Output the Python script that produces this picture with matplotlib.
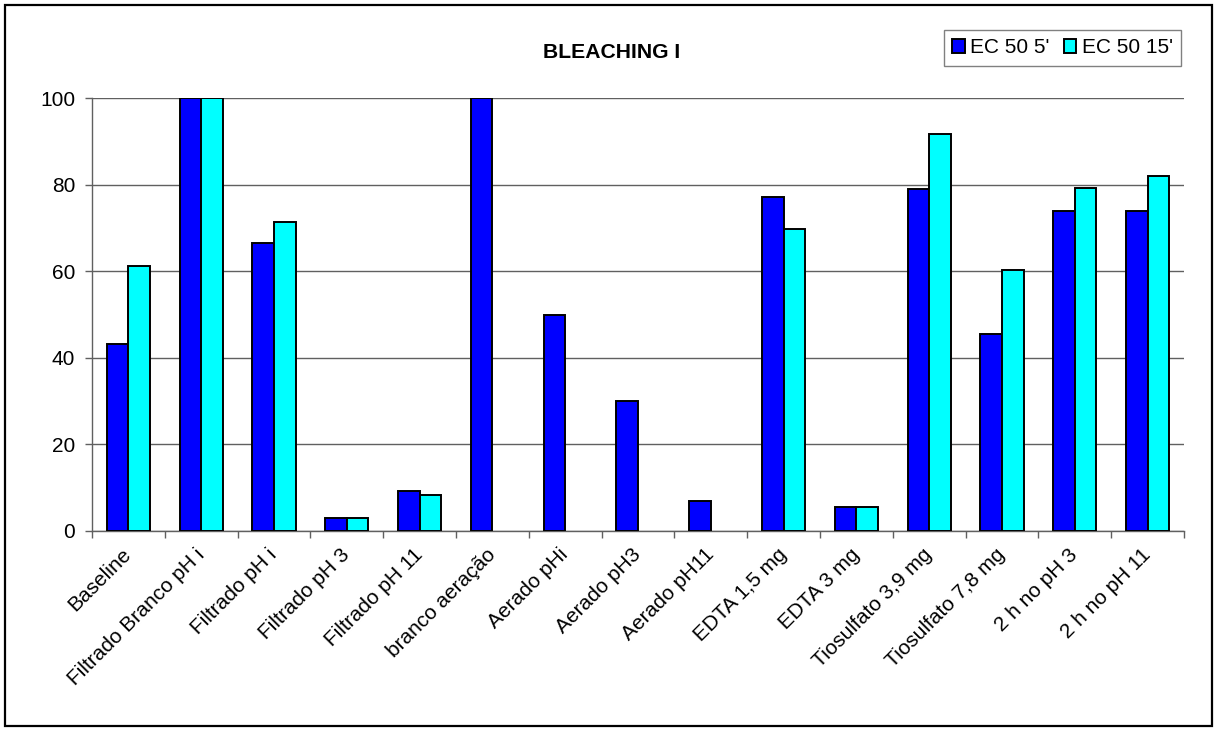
import numpy as np
import matplotlib.pyplot as plt
from matplotlib.patches import Rectangle

plt.rcParams['font.family'] = ['Liberation Sans', 'DejaVu Sans']

categories = ['Baseline', 'Filtrado Branco pH i', 'Filtrado pH i', 'Filtrado pH 3',
              'Filtrado pH 11', 'branco aeração', 'Aerado pHi', 'Aerado pH3',
              'Aerado pH11', 'EDTA 1,5 mg', 'EDTA 3 mg', 'Tiosulfato 3,9 mg',
              'Tiosulfato 7,8 mg', '2 h no pH 3', '2 h no pH 11']
ec50_5 = [43.3, 100, 66.5, 3.0, 9.3, 100, 50.0, 30.1, 7.0, 77.1, 5.5, 78.9, 45.4, 74.0, 73.8]
ec50_15 = [61.3, 100, 71.4, 3.0, 8.2, np.nan, np.nan, np.nan, np.nan, 69.7, 5.6, 91.8, 60.2, 79.2, 81.9]
series_names = ["EC 50 5'", "EC 50 15'"]
yticks = [0, 20, 40, 60, 80, 100]

W, H = 1218, 733
fs = 15
fig = plt.figure(figsize=(W / 100, H / 100), dpi=100)
ax = fig.add_axes([92 / W, 1 - 531 / H, (1184 - 92) / W, (531 - 98) / H])

x = np.arange(len(categories))
bw = 0.298
ax.bar(x - bw / 2, ec50_5, bw, color='#0000ff', edgecolor='black', linewidth=1.4,
       label=series_names[0], zorder=3)
ax.bar(x + bw / 2, ec50_15, bw, color='#00ffff', edgecolor='black', linewidth=1.4,
       label=series_names[1], zorder=3)

ax.set_xlim(-0.5, len(categories) - 0.5)
ax.set_ylim(0, 100)
ax.set_yticks(yticks)
ax.yaxis.grid(True, color='#606060', linewidth=1.0, zorder=0)

# ticks between categories, labels at the centres
ax.set_xticks(x)
ax.set_xticks(np.arange(len(categories) + 1) - 0.5, minor=True)
ax.set_xticklabels(categories, rotation=45, ha='right', va='center',
                   rotation_mode='anchor', fontsize=fs)
ax.tick_params(axis='x', which='major', length=0, pad=15)
ax.tick_params(axis='x', which='minor', length=5, color='#606060', width=1)
ax.tick_params(axis='y', length=5, color='#606060', width=1, labelsize=fs, pad=7)

for s in ['top', 'right']:
    ax.spines[s].set_visible(False)
for s in ['left', 'bottom']:
    ax.spines[s].set_color('#606060')
    ax.spines[s].set_linewidth(1.0)

fig.text(612 / W, 1 - 53 / H, 'BLEACHING I', ha='center', va='center',
         fontsize=15.2, fontweight='bold')

leg = fig.legend(loc='upper right', bbox_to_anchor=(1181 / W, 1 - 30 / H), ncol=2,
                 fontsize=fs, frameon=True, fancybox=False, borderaxespad=0,
                 handlelength=0.6, handleheight=0.6, handletextpad=0.25,
                 columnspacing=0.7, borderpad=0.4)
leg.get_frame().set_edgecolor('#606060')
leg.get_frame().set_linewidth(1.0)

# outer chart border
fig.patches.append(Rectangle((5 / W, 1 - 726 / H), (1212 - 5) / W, (726 - 5) / H,
                             transform=fig.transFigure, fill=False,
                             edgecolor='black', linewidth=1.6))

fig.savefig('out.png', dpi=100)
